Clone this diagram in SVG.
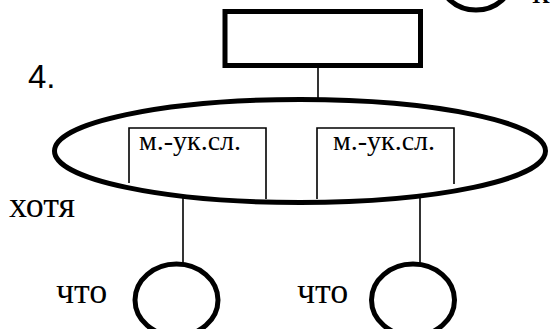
<svg xmlns="http://www.w3.org/2000/svg" width="550" height="329" viewBox="0 0 550 329">
<style>
.thick{fill:none;stroke:#000;stroke-width:5}
.thin{fill:none;stroke:#000;stroke-width:1.6}
.serif{font-family:"Liberation Serif","Times New Roman",serif;fill:#000}
.sans{font-family:"Liberation Sans",Arial,sans-serif;fill:#000}
</style>
<rect width="550" height="329" fill="#fff"/>
<g id="connectors">
<line class="thin" x1="318" y1="67" x2="318" y2="100"/>
<line class="thin" x1="183" y1="197" x2="183" y2="264"/>
<line class="thin" x1="420" y1="197" x2="420" y2="264"/>
</g>
<g id="top-circle">
<ellipse class="thick" cx="476" cy="-24" rx="37" ry="34"/>
<text class="serif" x="532" y="3" font-size="36">к</text>
</g>
<g id="top-rect">
<rect class="thick" x="225" y="11.5" width="195.5" height="54"/>
</g>
<g id="label-4">
<text class="sans" x="28" y="88" font-size="33">4.</text>
</g>
<g id="big-ellipse">
<ellipse class="thick" cx="300" cy="151" rx="245.5" ry="51.5"/>
</g>
<g id="box-left">
<polyline class="thin" points="129,183 129,128 266,128 266,199"/>
<text class="serif" x="139" y="150" font-size="28">м.-ук.сл.</text>
</g>
<g id="box-right">
<polyline class="thin" points="317,199 317,128 454,128 454,184"/>
<text class="serif" x="333" y="150" font-size="28">м.-ук.сл.</text>
</g>
<g id="label-hotya">
<text class="serif" x="9" y="217" font-size="36">хотя</text>
</g>
<g id="circle-left">
<ellipse class="thick" cx="176.5" cy="300" rx="41.5" ry="36"/>
<text class="serif" x="56" y="303" font-size="36">что</text>
</g>
<g id="circle-right">
<ellipse class="thick" cx="413" cy="300" rx="41.5" ry="36"/>
<text class="serif" x="297" y="303" font-size="36">что</text>
</g>
</svg>
